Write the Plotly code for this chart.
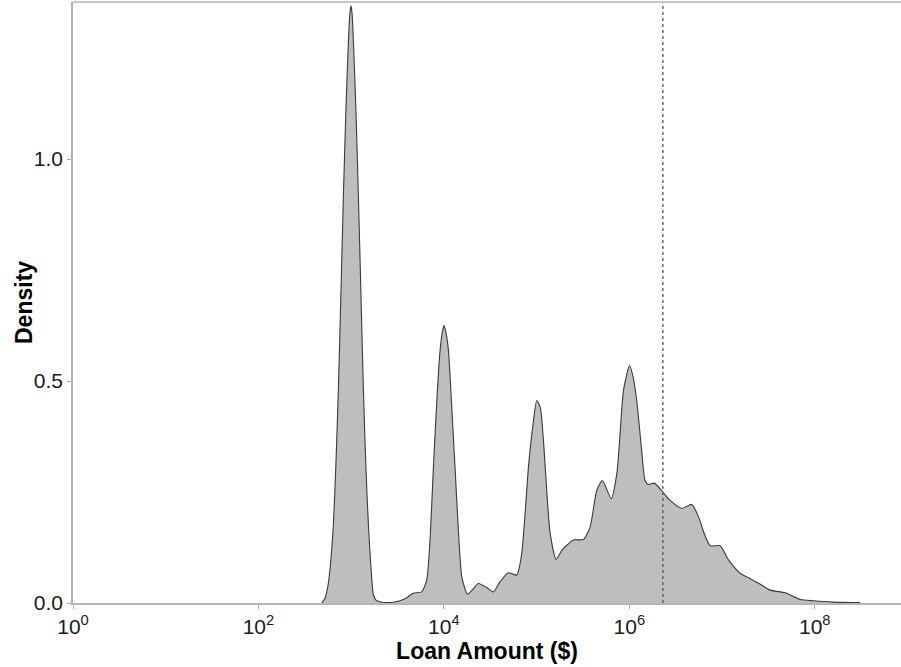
import plotly.graph_objects as go

# Density curve (log10 of loan amount, density)
log_amount = [2.683, 2.72, 2.754, 2.78, 2.808, 2.835, 2.862, 2.89, 2.916, 2.945, 2.97, 2.985, 2.998,
              3.011, 3.024, 3.05, 3.078, 3.105, 3.132, 3.16, 3.186, 3.215, 3.24, 3.27, 3.31,
              3.40, 3.51, 3.60, 3.67, 3.76, 3.815, 3.85, 3.887, 3.925, 3.959, 3.985, 4.002,
              4.02, 4.049, 4.085, 4.12, 4.16, 4.193, 4.254, 4.31, 4.372, 4.462, 4.534,
              4.606, 4.696, 4.786, 4.84, 4.875, 4.912, 4.96, 5.002, 5.04, 5.074, 5.11,
              5.146, 5.21, 5.27, 5.325, 5.397, 5.505, 5.577, 5.649, 5.71, 5.804, 5.865,
              5.90, 5.937, 6.002, 6.04, 6.08, 6.13, 6.17, 6.206, 6.27, 6.36, 6.44, 6.566,
              6.674, 6.746, 6.81, 6.872, 6.98, 7.07, 7.195, 7.303, 7.40, 7.519, 7.681,
              7.843, 7.986, 8.20, 8.49]
density = [0.0, 0.012, 0.044, 0.095, 0.175, 0.31, 0.48, 0.70, 0.915, 1.12, 1.264, 1.325, 1.345,
           1.325, 1.264, 1.12, 0.915, 0.70, 0.48, 0.30, 0.175, 0.075, 0.018, 0.006, 0.003,
           0.001, 0.004, 0.012, 0.022, 0.025, 0.052, 0.14, 0.306, 0.46, 0.569, 0.612, 0.625,
           0.612, 0.569, 0.44, 0.306, 0.15, 0.059, 0.020, 0.030, 0.044, 0.035, 0.025,
           0.048, 0.068, 0.063, 0.112, 0.20, 0.306, 0.40, 0.456, 0.44, 0.366, 0.25,
           0.157, 0.098, 0.118, 0.130, 0.142, 0.143, 0.171, 0.254, 0.276, 0.235, 0.291,
           0.38, 0.479, 0.535, 0.51, 0.456, 0.35, 0.276, 0.267, 0.270, 0.250, 0.231, 0.213,
           0.222, 0.194, 0.155, 0.129, 0.129, 0.097, 0.067, 0.055, 0.044, 0.029, 0.023,
           0.008, 0.005, 0.002, 0.001]

median_amount = 2.3e6

tick_values = [1, 100, 10000, 1000000, 100000000]
tick_labels = ["10<sup>0</sup>", "10<sup>2</sup>", "10<sup>4</sup>", "10<sup>6</sup>", "10<sup>8</sup>"]
y_ticks = [0.0, 0.5, 1.0]
y_tick_labels = ["0.0", "0.5", "1.0"]

amounts = [10 ** v for v in log_amount]
y_top = 1.3536

fig = go.Figure()
fig.add_trace(go.Scatter(
    x=amounts, y=density, mode="lines",
    line=dict(color="#3a3a3a", width=1.1, shape="spline", smoothing=0.6),
    fill="tozeroy", fillcolor="#BEBEBE", showlegend=False, hoverinfo="skip"))
fig.add_trace(go.Scatter(
    x=[median_amount, median_amount], y=[0, y_top], mode="lines",
    line=dict(color="#555555", width=1.3, dash="dot"), showlegend=False, hoverinfo="skip"))

font_family = "Liberation Sans, Arial, sans-serif"
axis_font = dict(family=font_family, size=21, color="#1a1a1a")
title_font = dict(family=font_family, size=23, color="#000000")
fig.update_layout(
    width=901, height=667,
    margin=dict(l=73, r=0, t=2, b=64, pad=0),
    paper_bgcolor="white", plot_bgcolor="white",
    xaxis=dict(
        type="log", range=[0, 8.93], automargin=False,
        tickvals=tick_values, ticktext=tick_labels,
        ticks="outside", ticklen=4, tickcolor="#AAAAAA", tickwidth=1,
        tickfont=axis_font, showgrid=False, zeroline=False,
        showline=True, linecolor="#B5B5B5", linewidth=1.5,
        title=dict(text="<b>Loan Amount ($)</b>", standoff=0, font=title_font),
    ),
    yaxis=dict(
        range=[0, y_top], automargin=False,
        tickvals=y_ticks, ticktext=y_tick_labels,
        ticks="outside", ticklen=4, tickcolor="#AAAAAA", tickwidth=1,
        tickfont=axis_font, showgrid=False, zeroline=False,
        showline=True, linecolor="#B5B5B5", linewidth=1.5,
    ),
    shapes=[dict(type="line", xref="paper", yref="paper", x0=0, x1=1.01, y0=1, y1=1,
                 line=dict(color="#B5B5B5", width=1.5))],
    annotations=[dict(text="<b>Density</b>", xref="paper", yref="paper",
                      x=-0.0598, y=0.5, xanchor="center", yanchor="middle",
                      textangle=-90, showarrow=False, font=title_font)],
)

fig.write_html(
    "out.html",
    config={"displayModeBar": False},
    post_script="document.body.style.margin='0';document.body.style.overflow='hidden';"
                "document.documentElement.style.overflow='hidden';",
)
